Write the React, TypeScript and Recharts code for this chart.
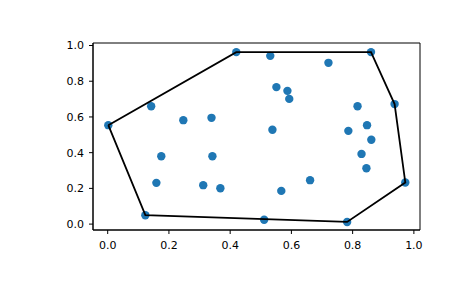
import { ScatterChart, Scatter, XAxis, YAxis, ReferenceArea } from "recharts";

// random points
const xs = [
  0.002, 0.123, 0.42, 0.531, 0.721, 0.86, 0.937, 0.551, 0.587, 0.593,
  0.538, 0.816, 0.786, 0.847, 0.861, 0.829, 0.845, 0.972, 0.661, 0.567,
  0.511, 0.782, 0.142, 0.247, 0.339, 0.175, 0.342, 0.159, 0.312, 0.368,
];
const ys = [
  0.554, 0.05, 0.963, 0.942, 0.903, 0.963, 0.672, 0.767, 0.746, 0.701,
  0.528, 0.66, 0.522, 0.554, 0.472, 0.393, 0.313, 0.233, 0.246, 0.186,
  0.024, 0.012, 0.66, 0.582, 0.595, 0.38, 0.38, 0.231, 0.218, 0.201,
];
// convex hull vertices, as indices into the points
const hull = [0, 1, 21, 17, 6, 5, 2, 0];
const ticks = [0, 0.2, 0.4, 0.6, 0.8, 1.0];

const points = xs.map((x, i) => ({ x, y: ys[i] }));
const hullPoints = hull.map((i) => points[i]);

const font = "DejaVu Sans";
const tickStyle = { fontFamily: font, fontSize: 11, fill: "#000" };

const Dot = (props: any) => (
  <circle cx={props.cx} cy={props.cy} r={4.2} fill="#1f77b4" />
);

export default function App() {
  return (
    <div style={{ position: "absolute", left: 0, top: 0, background: "#fff" }}>
      <ScatterChart
        width={465}
        height={288}
        margin={{ top: 43, right: 45, left: 53, bottom: 28 }}
      >
        <XAxis
          type="number"
          dataKey="x"
          domain={[-0.048, 1.02]}
          ticks={ticks}
          tickFormatter={(v) => v.toFixed(1)}
          allowDataOverflow
          height={30}
          tickSize={4}
          tickMargin={7}
          tick={tickStyle}
          stroke="#000"
        />
        <YAxis
          type="number"
          dataKey="y"
          domain={[-0.033, 1.014]}
          ticks={ticks}
          tickFormatter={(v) => v.toFixed(1)}
          allowDataOverflow
          width={40}
          tickSize={4}
          tickMargin={5}
          tick={tickStyle}
          stroke="#000"
        />
        <ReferenceArea
          x1={-0.048}
          x2={1.02}
          y1={-0.033}
          y2={1.014}
          fill="none"
          stroke="#000"
          strokeWidth={1}
          fillOpacity={0}
        />
        <Scatter data={points} shape={Dot} isAnimationActive={false} />
        <Scatter
          data={hullPoints}
          line={{ stroke: "#000", strokeWidth: 1.8 }}
          lineType="joint"
          shape={() => <g />}
          isAnimationActive={false}
        />
      </ScatterChart>
    </div>
  );
}
